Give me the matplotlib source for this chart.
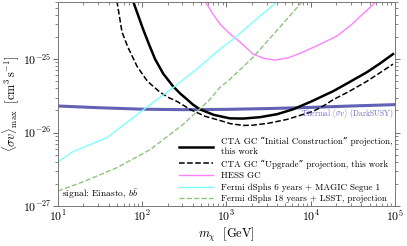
import numpy as np
import matplotlib
matplotlib.use("Agg")
import matplotlib.pyplot as plt

plt.rcParams['font.family'] = ['cmr10', 'DejaVu Serif']
plt.rcParams['mathtext.fontset'] = 'cm'
plt.rcParams['axes.formatter.use_mathtext'] = True
plt.rcParams['axes.unicode_minus'] = False

# thermal relic cross section (DarkSUSY)
thermal_m = [10, 30, 100, 300, 1000, 3000, 10000, 30000, 100000]
thermal_sv = [2.3e-26, 2.18e-26, 2.08e-26, 2.05e-26, 2.07e-26, 2.12e-26, 2.2e-26, 2.3e-26, 2.4e-26]

# CTA GC "Initial Construction"
cta_ic_m = [77.6, 89, 102, 120, 142, 178, 232, 282, 340, 400, 485, 708, 1100, 1570,
            2500, 4000, 6150, 10000, 18400, 28200, 46500, 66100, 94700]
cta_ic_sv = [6.2e-25, 4.0e-25, 2.58e-25, 1.6e-25, 1.0e-25, 6.3e-26, 4.27e-26, 3.4e-26,
             2.83e-26, 2.4e-26, 2.07e-26, 1.74e-26, 1.56e-26, 1.55e-26, 1.62e-26,
             1.78e-26, 2.07e-26, 2.63e-26, 3.65e-26, 4.8e-26, 6.64e-26, 8.7e-26, 1.17e-25]

# CTA GC "Upgrade"
cta_up_m = [50, 57.5, 67.6, 86.7, 115, 163, 205, 258, 369, 562, 837, 1120, 1570, 2065,
            3160, 5230, 10600, 14100, 18400, 28200, 46500, 66100, 94700]
cta_up_sv = [6.2e-25, 2.34e-25, 1.45e-25, 8.0e-26, 5.0e-26, 3.53e-26, 3.0e-26, 2.66e-26,
             2.07e-26, 1.66e-26, 1.46e-26, 1.32e-26, 1.25e-26, 1.26e-26, 1.34e-26, 1.51e-26,
             1.94e-26, 2.3e-26, 2.8e-26, 3.6e-26, 5.0e-26, 6.5e-26, 8.55e-26]

# HESS GC
hess_m = [556, 680, 837, 1100, 1445, 2065, 2800, 3770, 5400, 8100, 13000, 20500, 30000, 41700, 61100]
hess_sv = [6.2e-25, 4.2e-25, 3.0e-25, 2.2e-25, 1.71e-25, 1.17e-25, 1.02e-25, 9.7e-26, 1.04e-25,
           1.25e-25, 1.6e-25, 2.07e-25, 2.9e-25, 4.13e-25, 6.2e-25]

# Fermi dSphs 6 years + MAGIC Segue 1
fermi6_m = [10, 15.1, 19.8, 38.2, 94, 150, 245, 485, 837, 1150, 2065, 4080]
fermi6_sv = [4.0e-27, 5.5e-27, 6.23e-27, 8.55e-27, 1.88e-26, 2.83e-26, 4.27e-26, 8.0e-26,
             1.37e-25, 1.8e-25, 3.2e-25, 6.2e-25]

# Fermi dSphs 18 years + LSST projection
fermi18_m = [10, 19.8, 50, 124, 305, 637, 837, 1100, 2065, 4315, 8090]
fermi18_sv = [1.6e-27, 2.13e-27, 3.32e-27, 5.85e-27, 1.29e-26, 2.83e-26, 4.13e-26, 5.32e-26,
              1.06e-25, 2.74e-25, 6.2e-25]

fig = plt.figure(figsize=(4.07, 2.46), dpi=100)
ax = fig.add_axes([0.1425, 0.1626, 0.828, 0.8294])

ax.plot(thermal_m, thermal_sv, color='#4646a8', lw=2.2, alpha=0.85, zorder=1)
ax.plot(cta_ic_m, cta_ic_sv, color='black', lw=1.8,
        label='CTA GC \u201cInitial Construction\u201d projection,\nthis work')
ax.plot(cta_up_m, cta_up_sv, color='black', lw=1.1, ls='--',
        label='CTA GC \u201cUpgrade\u201d projection, this work')
ax.plot(hess_m, hess_sv, color='#ff80ff', lw=1.0, label='HESS GC')
ax.plot(fermi6_m, fermi6_sv, color='#80ffff', lw=1.0,
        label='Fermi dSphs 6 years + MAGIC Segue 1')
ax.plot(fermi18_m, fermi18_sv, color='#8fc480', lw=1.0, ls='--',
        label='Fermi dSphs 18 years + LSST, projection')

ax.set_xscale('log')
ax.set_yscale('log')
ax.set_xlim(10, 1e5)
ax.set_ylim(1e-27, 6e-25)
ax.set_yticks([1e-27, 1e-26, 1e-25])

ax.set_xlabel(r'$m_\chi\ \ [\mathrm{GeV}]$', fontsize=9, labelpad=1)
ax.set_ylabel(r'$\overline{\langle \sigma v\rangle}_{\rm max}\ \ [\mathrm{cm^3\,s^{-1}}]$',
              fontsize=8.8, labelpad=0.5)

ax.tick_params(axis='x', which='both', direction='in', top=True, labelsize=8.5, pad=2)
ax.tick_params(axis='y', which='both', direction='out', right=True, labelsize=8.5, pad=1)
ax.tick_params(which='major', length=3.5, width=0.6, color='#555555')
ax.tick_params(which='minor', length=2, width=0.5, color='#555555')
for s in ax.spines.values():
    s.set_color('#777777')
    s.set_linewidth(0.7)

ax.text(9.5e4, 2.15e-26, r'Thermal $\langle\sigma v\rangle$ (DarkSUSY)', color='#6868c0',
        fontsize=5.5, ha='right', va='top')
ax.text(0.012, 0.025, r'signal: Einasto, $b\bar{b}$', transform=ax.transAxes,
        fontsize=6.8, ha='left', va='bottom')

ax.legend(loc='lower right', fontsize=6.5, frameon=False, handlelength=3.7,
          handletextpad=0.9, labelspacing=0.35, borderaxespad=0.1, borderpad=0.2)

fig.savefig('out.png', dpi=100)
